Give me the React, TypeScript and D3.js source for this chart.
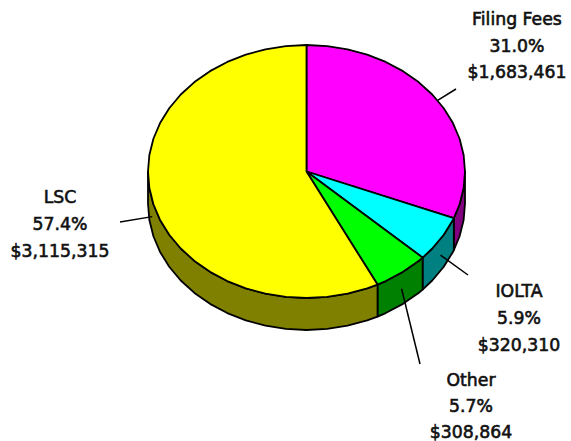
import React from "react";
import * as d3 from "d3";

const categories = ["Filing Fees", "IOLTA", "Other", "LSC"];
const amounts = [1683461, 320310, 308864, 3115315];
const percentLabels = ["31.0%", "5.9%", "5.7%", "57.4%"];
const amountLabels = ["$1,683,461", "$320,310", "$308,864", "$3,115,315"];
const topColors = ["#ff00ff", "#00ffff", "#00ff00", "#ffff00"];
const sideColors = ["#800080", "#008080", "#008000", "#808000"];

const W = 571, H = 441;
const CX = 306.5, CY = 171.5, RX = 158.5, RY = 126.5, DEPTH = 32;
const STEP = (2 * Math.PI) / 48;
const FONT = "'DejaVu Sans', sans-serif";

const labelLayout = [
  { x: 517, y: [25, 52, 78], end: [456, 89] },
  { x: 519, y: [297, 324, 351], end: [468, 275] },
  { x: 471, y: [386, 412, 438], end: [420, 364] },
  { x: 60, y: [203, 230, 257], end: [120, 222] },
];

const px = d3.scaleLinear().domain([-1, 1]).range([CX - RX, CX + RX]);
const py = d3.scaleLinear().domain([-1, 1]).range([CY - RY, CY + RY]);
const project = (a: number, dz = 0): [number, number] => [px(Math.sin(a)), py(-Math.cos(a)) + dz];

function rimAngles(a0: number, a1: number): number[] {
  const out = [a0];
  let k = Math.floor(a0 / STEP) + 1;
  while (k * STEP < a1 - 1e-6) { out.push(k * STEP); k++; }
  out.push(a1);
  return out;
}

const line = d3.line<[number, number]>();

export default function App() {
  const arcs = d3.pie<number>().sort(null)(amounts);
  const HALF = Math.PI / 2;
  return (
    <svg width={W} height={H} style={{ position: "absolute", left: 0, top: 0, background: "#fff" }}>
      {arcs.map((s, i) => {
        const a0 = Math.max(s.startAngle, HALF);
        const a1 = Math.min(s.endAngle, 3 * HALF);
        if (a1 <= a0) return null;
        const as = rimAngles(a0, a1);
        const pts = [...as.map((a) => project(a)), ...as.slice().reverse().map((a) => project(a, DEPTH))];
        return <path key={"w" + i} d={line(pts)! + "Z"} fill={sideColors[i]} stroke="#000" strokeWidth={1.8} strokeLinejoin="round" />;
      })}
      {arcs.map((s, i) => {
        const pts = [[CX, CY] as [number, number], ...rimAngles(s.startAngle, s.endAngle).map((a) => project(a))];
        return <path key={"t" + i} d={line(pts)! + "Z"} fill={topColors[i]} stroke="#000" strokeWidth={1.8} strokeLinejoin="round" />;
      })}
      {arcs.map((s, i) => {
        const mid = (s.startAngle + s.endAngle) / 2;
        const onWall = mid > HALF && mid < 3 * HALF;
        const [x, y] = project(mid, onWall ? DEPTH / 2 : 0);
        const [ex, ey] = labelLayout[i].end;
        return <line key={"l" + i} x1={x} y1={y} x2={ex} y2={ey} stroke="#000" strokeWidth={1.5} />;
      })}
      {categories.map((c, i) => {
        const l = labelLayout[i];
        return (
          <g key={c} fontFamily={FONT} fontSize={17.3} fill="#111" stroke="#111" strokeWidth={0.6} textAnchor="middle">
            <text x={l.x} y={l.y[0]}>{c}</text>
            <text x={l.x} y={l.y[1]}>{percentLabels[i]}</text>
            <text x={l.x} y={l.y[2]}>{amountLabels[i]}</text>
          </g>
        );
      })}
    </svg>
  );
}
